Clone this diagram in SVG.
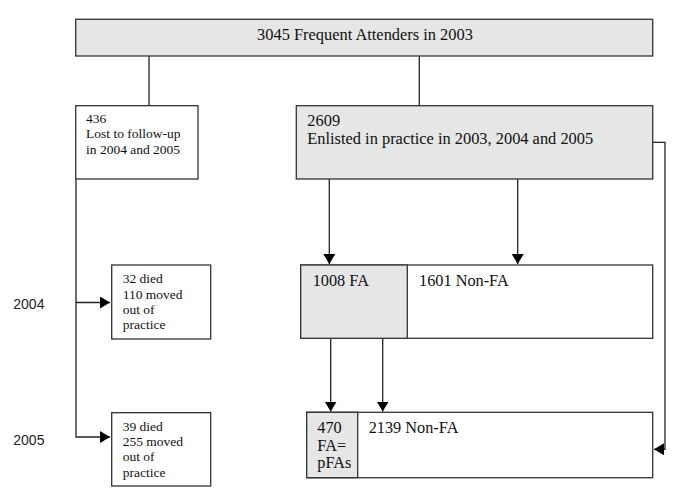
<svg xmlns="http://www.w3.org/2000/svg" width="685" height="501" viewBox="0 0 685 501">
<defs>
<marker id="ah" markerWidth="10" markerHeight="12" refX="10" refY="6" orient="auto" markerUnits="userSpaceOnUse">
<path d="M0,0 L10,6 L0,12 Z" fill="#000"/>
</marker>
<style>
.box{stroke:#333;stroke-width:1.3;fill:#fff}
.g{fill:#e6e6e6}
.t{font-family:"Liberation Serif","Times New Roman",serif;fill:#111}
.s{font-size:13.5px}
.m{font-size:16.3px}
.l{font-size:16.4px}
.yr{font-family:"Liberation Sans",Arial,sans-serif;font-size:14px;fill:#222}
.c{stroke:#222;stroke-width:1.3;fill:none}
</style>
</defs>
<rect width="685" height="501" fill="#fff"/>
<g id="connectors">
<line class="c" x1="149" y1="56" x2="149" y2="106"/>
<line class="c" x1="419.3" y1="56" x2="419.3" y2="106"/>
<polyline class="c" points="76,179 76,437 110,437" marker-end="url(#ah)"/>
<polyline class="c" points="76,302.5 110,302.5" marker-end="url(#ah)"/>
<line class="c" x1="329.3" y1="179" x2="329.3" y2="264" marker-end="url(#ah)"/>
<line class="c" x1="517.7" y1="179" x2="517.7" y2="264" marker-end="url(#ah)"/>
<line class="c" x1="330.7" y1="338.3" x2="330.7" y2="411.5" marker-end="url(#ah)"/>
<line class="c" x1="382.7" y1="338.3" x2="382.7" y2="411.5" marker-end="url(#ah)"/>
<polyline class="c" points="652.7,142.3 665,142.3 665,449.3 654,449.3" marker-end="url(#ah)"/>
</g>
<g id="n-top">
<rect class="box g" x="75.7" y="19.3" width="577" height="36.7"/>
<text class="t l" x="365" y="40" text-anchor="middle">3045 Frequent Attenders in 2003</text>
</g>
<g id="n-lost">
<rect class="box" x="75.7" y="105.7" width="122.3" height="73.3"/>
<text class="t s" x="86" y="122.7">436</text>
<text class="t s" x="86" y="138.3">Lost to follow-up</text>
<text class="t s" x="86" y="154">in 2004 and 2005</text>
</g>
<g id="n-enlisted">
<rect class="box g" x="296.3" y="105.7" width="356.4" height="73.3"/>
<text class="t l" x="307.3" y="126.3">2609</text>
<text class="t l" x="307.3" y="144">Enlisted in practice in 2003, 2004 and 2005</text>
</g>
<g id="n-died2004">
<rect class="box" x="111.7" y="265" width="99" height="74"/>
<text class="t s" x="122.7" y="283.3">32 died</text>
<text class="t s" x="122.7" y="298.7">110 moved</text>
<text class="t s" x="122.7" y="314">out of</text>
<text class="t s" x="122.7" y="329.3">practice</text>
</g>
<g id="n-died2005">
<rect class="box" x="111.7" y="412.7" width="99" height="73.3"/>
<text class="t s" x="122.7" y="430.7">39 died</text>
<text class="t s" x="122.7" y="446">255 moved</text>
<text class="t s" x="122.7" y="461.3">out of</text>
<text class="t s" x="122.7" y="476.7">practice</text>
</g>
<g id="n-2004">
<rect class="box" x="300.7" y="265" width="352" height="73.3"/>
<rect class="box g" x="300.7" y="265" width="106.6" height="73.3"/>
<text class="t m" x="312.7" y="286">1008 FA</text>
<text class="t m" x="419" y="286">1601 Non-FA</text>
</g>
<g id="n-2005">
<rect class="box" x="306.7" y="412.3" width="346" height="65.4"/>
<rect class="box g" x="306.7" y="412.3" width="51" height="65.4"/>
<text class="t m" x="317.3" y="432.7">470</text>
<text class="t m" x="317.3" y="450.5">FA=</text>
<text class="t m" x="317.3" y="468.3">pFAs</text>
<text class="t m" x="368.7" y="432.7">2139 Non-FA</text>
</g>
<g id="labels">
<text class="yr" x="13.3" y="308.5">2004</text>
<text class="yr" x="13.3" y="445">2005</text>
</g>
</svg>
